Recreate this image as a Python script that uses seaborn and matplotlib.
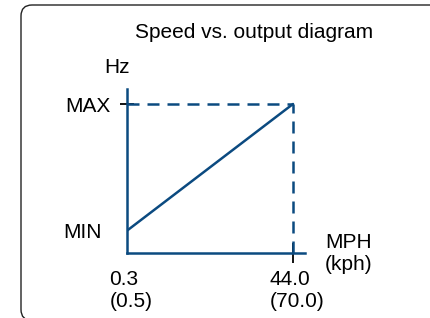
import matplotlib
matplotlib.use("Agg")
import matplotlib.pyplot as plt
from matplotlib.patches import FancyBboxPatch
from matplotlib.transforms import ScaledTranslation
import seaborn as sns
import pandas as pd

# chart values
speed_mph = [0.3, 44.0]
speed_kph = [0.5, 70.0]
hz_level = [0.15, 1.0]  # MIN, MAX (relative)
hz_names = ["MIN", "MAX"]

navy = "#0b4a80"

sns.set_theme(style="white")
plt.rcParams['font.family'] = ['Liberation Sans', 'DejaVu Sans']
plt.rcParams['text.color'] = 'black'

df = pd.DataFrame({"mph": speed_mph, "hz": hz_level})

fig = plt.figure(figsize=(4.31, 3.18), dpi=100)
ax = fig.add_axes([127 / 431, 65 / 318, 178 / 431, 164 / 318])

sns.lineplot(data=df, x="mph", y="hz", color=navy, linewidth=1.8, ax=ax)

# dashed guides to the MAX point
dash = (0, (4.8, 3.2))
ax.plot([speed_mph[0], speed_mph[1]], [hz_level[1], hz_level[1]],
        color=navy, linestyle=dash, linewidth=1.8, zorder=1)
ax.plot([speed_mph[1], speed_mph[1]], [0, hz_level[1]],
        color=navy, linestyle=dash, linewidth=1.8, zorder=1)

span = speed_mph[1] - speed_mph[0]
ax.set_xlim(speed_mph[0], speed_mph[0] + span * 178 / 166)
ax.set_ylim(0, 164 / 149)

for side in ["top", "right"]:
    ax.spines[side].set_visible(False)
for side in ["left", "bottom"]:
    ax.spines[side].set_color(navy)
    ax.spines[side].set_linewidth(1.8)

xlabels = [f"{m}\n({k})" for m, k in zip(speed_mph, speed_kph)]
ax.set_xticks(speed_mph)
ax.set_xticklabels(xlabels, fontsize=15, multialignment="left")
ax.set_yticks([hz_level[1]])
ax.set_yticklabels([hz_names[1]], fontsize=15)
ax.tick_params(axis="y", left=True, direction="inout", length=10, width=1.3,
               color="black", pad=7, labelcolor="black")
ax.tick_params(axis="x", bottom=True, direction="inout", length=14, width=1.3,
               color="black", pad=5, labelcolor="black")
ax.xaxis.get_major_ticks()[0].tick1line.set_visible(False)
ax.set_xlabel("")
ax.set_ylabel("")

# nudge x labels a little to the right, as in the original
shift = ScaledTranslation(4 / 100, 0, fig.dpi_scale_trans)
for lab in ax.get_xticklabels():
    lab.set_transform(lab.get_transform() + shift)

ax.annotate(hz_names[0], xy=(0, hz_level[0]),
            xycoords=("axes fraction", "data"), xytext=(-18, -1.5),
            textcoords="offset points", ha="right", va="center", fontsize=15)
ax.annotate("Hz", xy=(0, 1), xycoords="axes fraction", xytext=(-7, 9),
            textcoords="offset points", ha="center", va="bottom", fontsize=15)
ax.annotate("MPH\n(kph)", xy=(1, 0), xycoords="axes fraction",
            xytext=(14.5, 0), textcoords="offset points", ha="left",
            va="center", fontsize=15, multialignment="left")

fig.text(254 / 431, 1 - 33 / 318, "Speed vs. output diagram",
         ha="center", va="center", fontsize=15)

box = FancyBboxPatch((0.21, -0.025), 4.5, 3.155, transform=fig.dpi_scale_trans,
                     boxstyle="round,pad=0,rounding_size=0.11",
                     facecolor="none", edgecolor="#222222", linewidth=1.0)
fig.patches.append(box)

fig.savefig("out.png", dpi=100)
